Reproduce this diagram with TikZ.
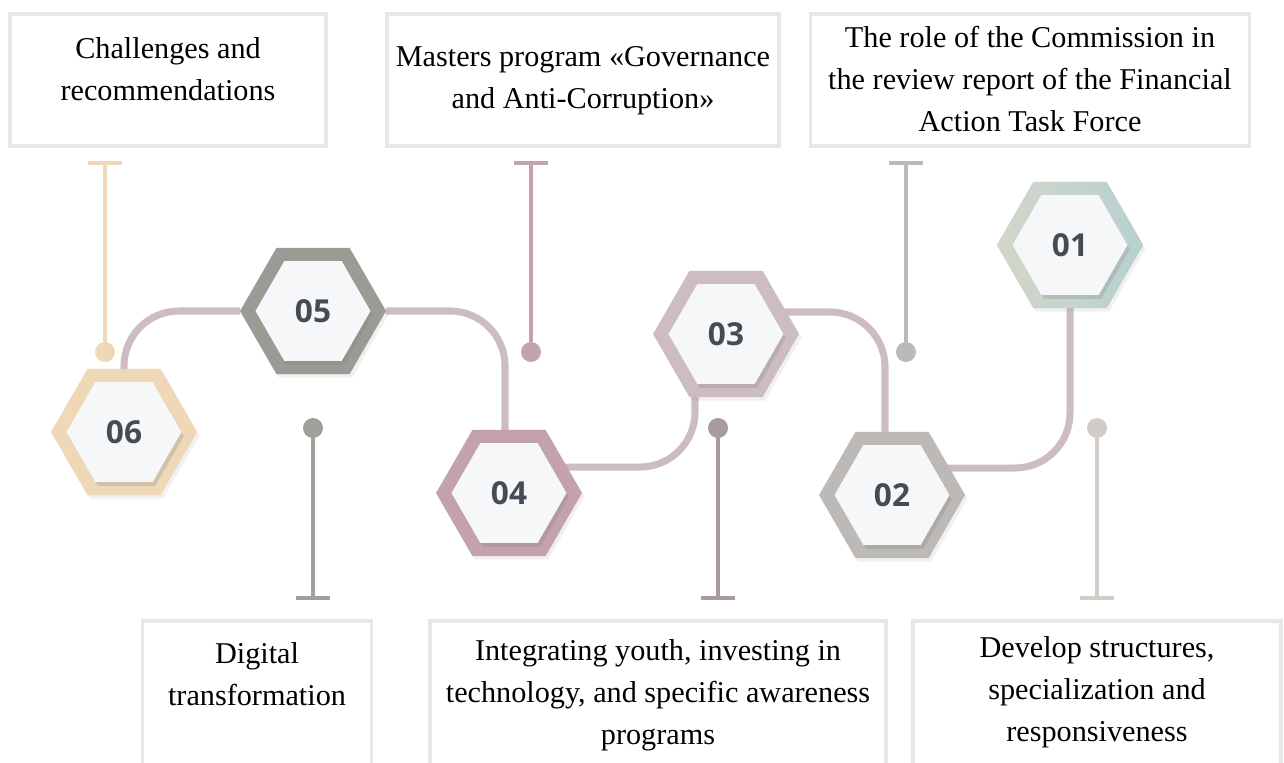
\documentclass[tikz,border=0pt]{standalone}
\usepackage{fontspec}
\setmainfont{Liberation Serif}
\newfontfamily\numfont{Open Sans}
\usetikzlibrary{shapes.geometric,shadows,calc,arrows.meta,backgrounds}
\definecolor{framegray}{HTML}{E6E8E8}
\definecolor{linkcol}{HTML}{CDBCC1}
\definecolor{corefill}{HTML}{F5F7F9}
\definecolor{numgray}{HTML}{454C53}
\definecolor{hexsix}{HTML}{EED8B8}
\definecolor{hexfive}{HTML}{9C9A94}
\definecolor{hexfour}{HTML}{C3A2AC}
\definecolor{hexthree}{HTML}{CDBDC1}
\definecolor{hextwo}{HTML}{BCB9B7}
\definecolor{hexone}{HTML}{C8D3CB}
\definecolor{hexoneL}{HTML}{D3D6C9}
\definecolor{hexoneR}{HTML}{B7D1CF}
\definecolor{pinfive}{HTML}{A19F99}
\definecolor{pinthree}{HTML}{A99A9D}
\definecolor{pinone}{HTML}{D2CCC6}
\definecolor{pinfour}{HTML}{C4A3AE}
\definecolor{pintwo}{HTML}{BBBAB8}

\begin{document}
\begin{tikzpicture}[x=0.02cm, y=-0.02cm,
  box/.style={draw=framegray, line width=2.2pt, inner sep=0pt},
  txt/.style={font=\fontsize{17.2}{23.9}\selectfont, align=center, anchor=north, inner sep=0pt},
  ring/.style={regular polygon, regular polygon sides=6, minimum size=2.92cm, inner sep=0pt, outer sep=0pt, fill=#1,
    drop shadow={opacity=.12, shadow xshift=.05cm, shadow yshift=-.07cm}},
  core/.style={regular polygon, regular polygon sides=6, minimum size=2.3cm, inner sep=0pt, fill=corefill, text=numgray,
    font=\numfont\bfseries\fontsize{18}{20}\selectfont, drop shadow={opacity=.25, shadow xshift=.05cm, shadow yshift=-.08cm}},
  link/.style={draw=linkcol, line width=4pt, rounded corners=1.1cm},
  pin/.style={draw=#1, line width=2.3pt, -{Bar[width=19pt]}},
  dot/.style={circle, fill=#1, minimum size=.4cm, inner sep=0pt}]
\useasboundingbox (0,0) rectangle (1284,762);
\clip (0,0) rectangle (1284,762);

\node[box, minimum width=6.32cm, minimum height=2.64cm] (bA) at (168,80) {};
\node[box, minimum width=7.84cm, minimum height=2.64cm] (bB) at (583,80) {};
\node[box, minimum width=8.78cm, minimum height=2.64cm] (bC) at (1030,80) {};
\node[box, minimum width=4.58cm, minimum height=3.4cm] (bD) at (257,706) {};
\node[box, minimum width=9.12cm, minimum height=3.4cm] (bE) at (658,706) {};
\node[box, minimum width=7.36cm, minimum height=3.4cm] (bF) at (1097,706) {};
\node[txt] (tA) at (168,37) {Challenges and\\recommendations};
\node[txt] (tB) at (583,46) {Masters program «Governance\\and Anti-Corruption»};
\node[txt] (tC) at (1030,26) {The role of the Commission in\\the review report of the Financial\\Action Task Force};
\node[txt] (tD) at (257,642) {Digital\\transformation};
\node[txt] (tE) at (658,639) {Integrating youth, investing in\\technology, and specific awareness\\programs};
\node[txt] (tF) at (1097,636) {Develop structures,\\specialization and\\responsiveness};

\node[ring=hexsix] (h6) at (124,432) {};
\node[ring=hexfive] (h5) at (313,311) {};
\node[ring=hexfour] (h4) at (509,493) {};
\node[ring=hexthree] (h3) at (726,334) {};
\node[ring=hextwo] (h2) at (892,495) {};
\node[ring=hexone, left color=hexoneL, right color=hexoneR] (h1) at (1070,245) {};
\node[core] (n6) at (h6) {06};
\node[core] (n5) at (h5) {05};
\node[core] (n4) at (h4) {04};
\node[core] (n3) at (h3) {03};
\node[core] (n2) at (h2) {02};
\node[core] (n1) at (h1) {01};

\begin{scope}[on background layer]
\draw[link] (h6.north) |- (h5.west);
\draw[link] (h5.east) -| ($(h4.north)+(-4,0)$);
\draw[link] ($(h4.center)+(0,-26)$) -| ($(h3.south)+(-31,0)$);
\draw[link] ($(h3.center)+(0,-22)$) -| ($(h2.north)+(-7,0)$);
\draw[link] ($(h2.center)+(0,-27)$) -| (h1.south);
\end{scope}

\node[dot=hexsix] (d6) at (105,352) {};
\node[dot=pinfour] (d4) at (531,352) {};
\node[dot=pintwo] (d2) at (906,352) {};
\node[dot=pinfive] (d5) at (313,428) {};
\node[dot=pinthree] (d3) at (718,428) {};
\node[dot=pinone] (d1) at (1097,428) {};
\coordinate (e6) at (105,161);
\coordinate (e4) at (531,161);
\coordinate (e2) at (906,161);
\coordinate (e5) at (313,600);
\coordinate (e3) at (718,600);
\coordinate (e1) at (1097,600);
\draw[pin=hexsix] (d6) -- (e6);
\draw[pin=pinfour] (d4) -- (e4);
\draw[pin=pintwo] (d2) -- (e2);
\draw[pin=pinfive] (d5) -- (e5);
\draw[pin=pinthree] (d3) -- (e3);
\draw[pin=pinone] (d1) -- (e1);
\end{tikzpicture}
\end{document}
